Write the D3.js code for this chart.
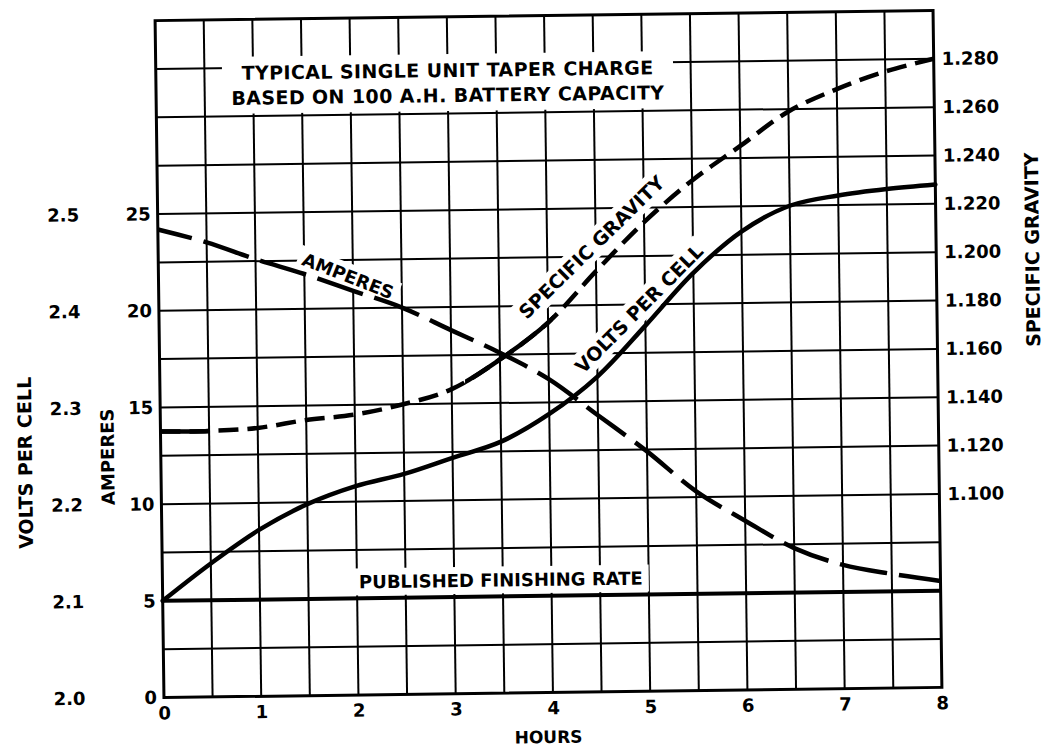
<!DOCTYPE html>
<html><head><meta charset="utf-8">
<script src="https://cdn.jsdelivr.net/npm/d3@7"></script>
<style>
html,body{margin:0;padding:0;background:#fff;}
svg{display:block;background:#fff;}
text{font-family:"DejaVu Sans",sans-serif;font-weight:bold;fill:#000;}
</style></head><body>
<svg id="chart" width="1045" height="750"></svg>
<script>
// ---- data ----
const hours = [0,0.5,1,1.5,2,2.5,3,3.5,4,4.5,5,5.5,6,6.5,7,7.5,8];
const amperes = [24.2,23.5,22.6,21.8,20.9,20.0,18.8,17.6,16.2,14.3,12.4,10.3,8.75,7.3,6.4,5.9,5.5];
const voltsPerCell = [2.100,2.138,2.172,2.198,2.216,2.228,2.244,2.260,2.288,2.326,2.378,2.432,2.474,2.500,2.510,2.516,2.520];
const specificGravity = [1.130,1.130,1.131,1.134,1.136,1.140,1.146,1.158,1.173,1.194,1.214,1.231,1.245,1.259,1.268,1.275,1.280];
const finishingHours = [0,8];
const finishingRate = [5,5];
const ampTicks = [0,5,10,15,20,25];
const voltTicks = [2.0,2.1,2.2,2.3,2.4,2.5];
const sgTicks = [1.100,1.120,1.140,1.160,1.180,1.200,1.220,1.240,1.260,1.280];
const hourTicks = [0,1,2,3,4,5,6,7,8];
const titleLines = ["TYPICAL SINGLE UNIT TAPER CHARGE","BASED ON 100 A.H. BATTERY CAPACITY"];

// ---- layout ----
const svg = d3.select('#chart');
const g = svg.append('g').attr('transform','rotate(-0.75 548.5 354)');
const x = d3.scaleLinear().domain([0,8]).range([159.5,937.5]);
const yA = d3.scaleLinear().domain([0,35]).range([692.5,15.5]);
const yV = d3.scaleLinear().domain([2.0,2.7]).range([692.5,15.5]);
const yS = d3.scaleLinear().domain([1.020,1.300]).range([692.5,15.5]);

const defs = svg.append('defs');
[[0,0.5,'clipA'],[3.2,4.05,'clipB']].forEach(([a,b,id])=>{
  defs.append('clipPath').attr('id',id).attr('clipPathUnits','userSpaceOnUse')
    .append('rect').attr('x',x(a)-6).attr('y',0).attr('width',x(b)-x(a)+6).attr('height',750);
});

// grid
const grid = g.append('g');
grid.selectAll('line.v').data(d3.range(0.5,8,0.5)).join('line').attr('class','v')
  .attr('x1',d=>x(d)).attr('x2',d=>x(d)).attr('y1',yA(0)).attr('y2',yA(35))
  .attr('stroke','#000').attr('stroke-width',2);
grid.selectAll('line.h').data(d3.range(2.5,35,2.5)).join('line').attr('class','h')
  .attr('y1',d=>yA(d)).attr('y2',d=>yA(d)).attr('x1',x(0)).attr('x2',x(8))
  .attr('stroke','#000').attr('stroke-width',2);

const bgLayer = g.append('g');
const curveLayer = g.append('g');
const textLayer = g.append('g');

function label(lines, h, a, angle, size, padX, padY, lineGap, spacing){
  const tr = `translate(${x(h)},${yA(a)}) rotate(${angle})`;
  const tg = textLayer.append('g').attr('transform',tr);
  const n = lines.length;
  lines.forEach((s,i)=>{
    tg.append('text').attr('text-anchor','middle').attr('dominant-baseline','central')
      .attr('y',(i-(n-1)/2)*(lineGap||0)).style('font-size',size+'px')
      .style('letter-spacing',(spacing||0)+'px').text(s);
  });
  const bb = tg.node().getBBox();
  bgLayer.append('rect').attr('transform',tr)
    .attr('x',bb.x-padX).attr('y',bb.y-padY).attr('width',bb.width+2*padX).attr('height',bb.height+2*padY)
    .attr('fill','#fff');
}

// curves
const mk = (ys)=>d3.line().x((d,i)=>x(hours[i])).y(d=>ys(d)).curve(d3.curveCatmullRom.alpha(0.5));
curveLayer.append('path').attr('d',mk(yV)(voltsPerCell))
  .attr('fill','none').attr('stroke','#000').attr('stroke-width',4.5).attr('stroke-linecap','round');
curveLayer.append('path').attr('d',mk(yA)(amperes))
  .attr('fill','none').attr('stroke','#000').attr('stroke-width',4.5)
  .attr('stroke-dasharray','48,12').attr('stroke-dashoffset',13);
const sgD = mk(yS)(specificGravity);
curveLayer.append('path').attr('d',sgD)
  .attr('fill','none').attr('stroke','#000').attr('stroke-width',4.5).attr('stroke-dasharray','20,9');
['clipA','clipB'].forEach(id=>{
  curveLayer.append('path').attr('d',sgD).attr('clip-path',`url(#${id})`)
    .attr('fill','none').attr('stroke','#000').attr('stroke-width',4.5);
});
curveLayer.append('path')
  .attr('d',d3.line().x((d,i)=>x(finishingHours[i])).y(d=>yA(d))(finishingRate))
  .attr('fill','none').attr('stroke','#000').attr('stroke-width',4);

// labels in plot
label(titleLines, 3.0, 31.6, 0, 19, 9, 5, 25, 0.4);
label(["AMPERES"], 1.95, 21.67, 22, 18, 5, 2);
label(["SPECIFIC GRAVITY"], 4.455, 23.0, -43.6, 19, 4, 2);
label(["VOLTS PER CELL"], 4.936, 19.79, -44.5, 19, 4, 2);
label(["PUBLISHED FINISHING RATE"], 3.48, 5.85, 0, 18, 6, 3);

// border
g.append('rect').attr('x',x(0)).attr('y',yA(35)).attr('width',x(8)-x(0)).attr('height',yA(0)-yA(35))
  .attr('fill','none').attr('stroke','#000').attr('stroke-width',3);

// axes
function styleAxis(sel, size){
  sel.select('.domain').remove();
  sel.selectAll('text').style('font-size',size+'px');
}
const axA = g.append('g').attr('transform',`translate(${x(0)},0)`)
  .call(d3.axisLeft(yA).tickValues(ampTicks).tickSize(0).tickPadding(7));
styleAxis(axA,18);
const axV = g.append('g').attr('transform','translate(81,0)')
  .call(d3.axisLeft(yV).tickValues(voltTicks).tickFormat(d3.format('.1f')).tickSize(0).tickPadding(0));
styleAxis(axV,18);
const axS = g.append('g').attr('transform',`translate(${x(8)},0)`)
  .call(d3.axisRight(yS).tickValues(sgTicks).tickFormat(d3.format('.3f')).tickSize(0).tickPadding(8));
styleAxis(axS,18);
const axH = g.append('g').attr('transform',`translate(0,${yA(0)})`)
  .call(d3.axisBottom(x).tickValues(hourTicks).tickFormat(d3.format('d')).tickSize(0).tickPadding(9));
styleAxis(axH,18);

// axis titles
g.append('text').attr('transform','translate(23.6,456) rotate(-90)').attr('text-anchor','middle')
  .attr('dominant-baseline','central').style('font-size','19px').text('VOLTS PER CELL');
g.append('text').attr('transform','translate(106.2,451) rotate(-90)').attr('text-anchor','middle')
  .attr('dominant-baseline','central').style('font-size','18px').text('AMPERES');
g.append('text').attr('transform','translate(1033.4,256) rotate(-90)').attr('text-anchor','middle')
  .attr('dominant-baseline','central').style('font-size','19px').text('SPECIFIC GRAVITY');
g.append('text').attr('x',x(4)-5).attr('y',737).attr('text-anchor','middle')
  .attr('dominant-baseline','central').style('font-size','17px').text('HOURS');
</script>
</body></html>
